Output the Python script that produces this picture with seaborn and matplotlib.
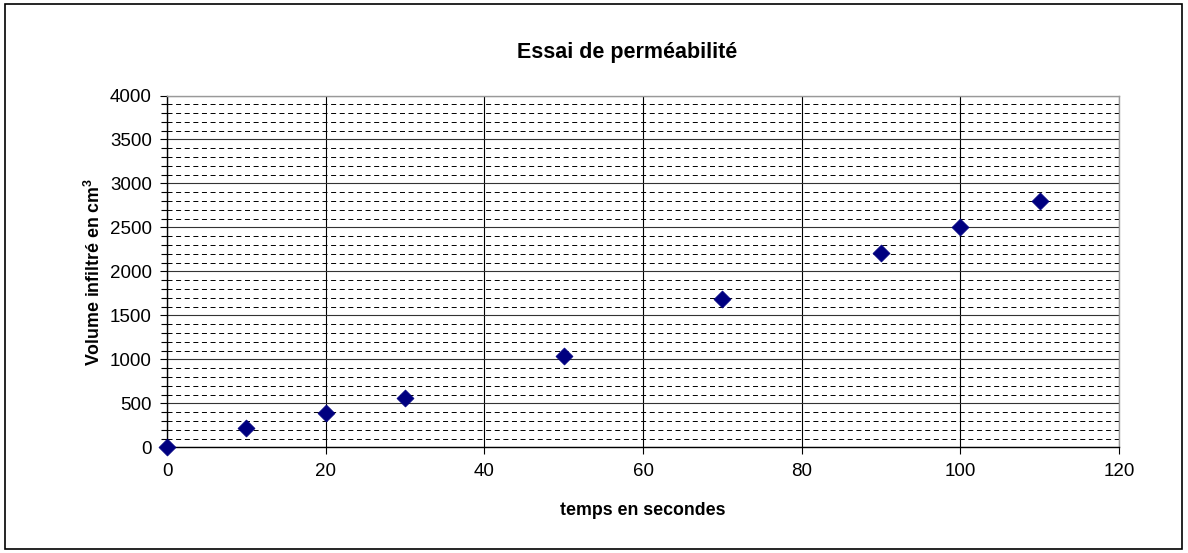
"""
Essai de perméabilité : volume infiltré en fonction du temps.
"""

import matplotlib.pyplot as plt
from matplotlib.patches import Rectangle
from matplotlib.ticker import MultipleLocator
import pandas as pd
import seaborn as sns

temps_s = [0, 10, 20, 30, 50, 70, 90, 100, 110]
volume_cm3 = [0, 215, 385, 565, 1035, 1690, 2205, 2500, 2800]

TITLE = "Essai de perméabilité"
XLABEL = "temps en secondes"
YLABEL = r"Volume infiltré en cm$^\mathbf{3}$"

sns.set_style("white")
plt.rcParams["font.family"] = ["Liberation Sans", "DejaVu Sans"]
plt.rcParams["mathtext.fontset"] = "custom"
plt.rcParams["mathtext.bf"] = "Liberation Sans:bold"
plt.rcParams["mathtext.rm"] = "Liberation Sans"
plt.rcParams["lines.scale_dashes"] = False
plt.rcParams["text.color"] = "black"
plt.rcParams["axes.labelcolor"] = "black"
plt.rcParams["xtick.color"] = "black"
plt.rcParams["ytick.color"] = "black"

df = pd.DataFrame({"temps": temps_s, "volume": volume_cm3})

fig = plt.figure(figsize=(11.88, 5.53), dpi=100)
ax = fig.add_axes([0.1406, 0.1911, 0.8013, 0.6362])

# outer frame around the whole chart
fig.patches.append(Rectangle((5 / 1188, 4 / 553), 1177 / 1188, 545 / 553,
                             transform=fig.transFigure, fill=False,
                             edgecolor="black", linewidth=1.2))

ax.set_xlim(0, 120)
ax.set_ylim(0, 4000)
ax.xaxis.set_major_locator(MultipleLocator(20))
ax.yaxis.set_major_locator(MultipleLocator(500))
ax.yaxis.set_minor_locator(MultipleLocator(100))

ax.grid(True, which="major", axis="x", color="black", linewidth=0.8)
ax.grid(True, which="major", axis="y", color="#333333", linewidth=0.8)
ax.grid(True, which="minor", axis="y", color="black", linewidth=0.7,
        linestyle=(0, (3.6, 2.6)))
ax.set_axisbelow(True)

sns.scatterplot(data=df, x="temps", y="volume", marker="D", s=75,
                color="#000080", edgecolor="#000080", linewidth=0.5,
                ax=ax, zorder=3, clip_on=False)

for side in ["left", "bottom"]:
    ax.spines[side].set_color("black")
    ax.spines[side].set_linewidth(1.0)
for side in ["top", "right"]:
    ax.spines[side].set_color("#999999")
    ax.spines[side].set_linewidth(1.0)

ax.tick_params(axis="both", which="major", direction="out", length=5,
               width=0.8, color="black", labelsize=13.5, pad=6)
ax.tick_params(axis="y", which="minor", direction="out", length=4,
               width=0.8, color="black", left=True)
ax.tick_params(axis="x", bottom=True)
ax.tick_params(axis="y", left=True)

ax.set_title(TITLE, fontsize=15.5, fontweight="bold", pad=27, x=0.483)
ax.set_xlabel(XLABEL, fontsize=12.8, fontweight="bold", labelpad=16)
ax.set_ylabel(YLABEL, fontsize=12.8, fontweight="bold", labelpad=4)

fig.savefig("out.png", dpi=100)
